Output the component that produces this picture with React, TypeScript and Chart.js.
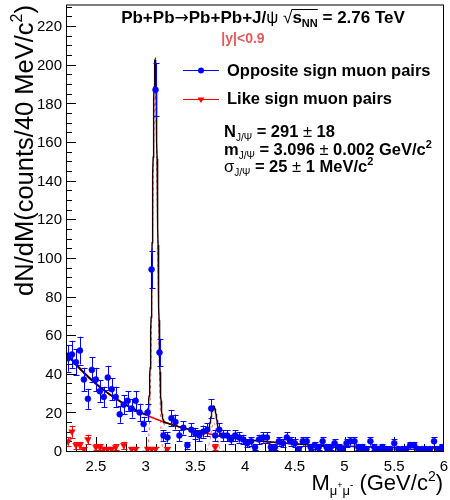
import React, { useEffect, useRef } from "react";
import { Chart, registerables } from "chart.js";

Chart.register(...registerables);

// ---------- data ----------
const BIN_LO = 2.2;
const BIN_WIDTH = 0.04;
const X_MIN = 2.2;
const X_MAX = 6.0;
const Y_MIN = 0;
const Y_MAX = 231.2;

// opposite sign muon pairs, counts per 40 MeV bin (2.20 .. 6.00)
const oppositeSign = [
  48, 50, 46, 52, 37, 27, 42, 37, 31, 28,
  38, 32, 28, 19, 24, 26, 22, 26, 20, 14,
  20, 94, 187, 51, 8, 7, 17, 15, 8, 12,
  3, 11, 9, 8, 10, 11, 22, 8, 11, 8,
  8, 6, 8, 7, 6, 4, 5, 2, 6, 7,
  7, 2, 2, 5, 4, 7, 5, 4, 1, 5,
  5, 2, 3, 2, 5, 2, 2, 4, 2, 1,
  4, 5, 5, 2, 2, 1, 5, 2, 1, 2,
  1, 1, 4, 1, 1, 1, 3, 3, 1, 1,
  1, 1, 5, 1, 2,
];

// like sign muon pairs
const likeSign = [
  5, 10, 3, 3, 1, 6, 0, 2, 2, 1,
  1, 1, 2, 0, 3, 0, 1, 1, 0, 0,
  1, 1, 1, 0, 0, 1, 0, 0, 0, 0,
  0, 0, 0, 0, 0, 0, 0, 2, 0, 0,
  0, 0, 0, 0, 0, 0, 0, 0, 0, 0,
  0, 0, 0, 0, 0, 0, 0, 0, 0, 0,
  0, 0, 0, 0, 0, 0, 0, 0, 0, 0,
  0, 0, 0, 0, 0, 0, 0, 0, 0, 0,
  0, 0, 0, 0, 0, 0, 0, 0, 0, 0,
  0, 0, 0, 0, 0,
];

// fit parameters
const jpsiN = 291;
const jpsiMass = 3.096;
const jpsiSigma = 0.025;
const psi2sN = 26;
const psi2sMass = 3.686;
const psi2sSigma = 0.028;
const bgNorm = 50;
const bgSlope = 1.3;
const bgConst = 1.2;

const xTicks = [2.5, 3, 3.5, 4, 4.5, 5, 5.5, 6];
const xTickLabels = ["2.5", "3", "3.5", "4", "4.5", "5", "5.5", "6"];
const yTicks = [0, 20, 40, 60, 80, 100, 120, 140, 160, 180, 200, 220];

// ---------- helpers ----------
const FONT = "'Liberation Sans', Arial, Helvetica, sans-serif";

const binCenter = (i: number) => BIN_LO + BIN_WIDTH * (i + 0.5);
const gauss = (x: number, n: number, m: number, s: number) =>
  ((n * BIN_WIDTH) / (s * Math.sqrt(2 * Math.PI))) * Math.exp(-0.5 * ((x - m) / s) ** 2);
const bgFn = (x: number) => bgNorm * Math.exp(-bgSlope * (x - X_MIN)) + bgConst;

const fitGrid: number[] = [];
for (let i = 0; i <= 1900; i++) fitGrid.push(X_MIN + i * 0.002);

const osPoints = oppositeSign.map((v, i) => ({ x: binCenter(i), y: v })).filter((p) => p.y > 0);
const lsPoints = likeSign.map((v, i) => ({ x: binCenter(i), y: v })).filter((p) => p.y > 0);
const bgCurve = fitGrid.map((x) => ({ x, y: bgFn(x) }));
const totalCurve = fitGrid.map((x) => ({
  x,
  y: bgFn(x) + gauss(x, jpsiN, jpsiMass, jpsiSigma) + gauss(x, psi2sN, psi2sMass, psi2sSigma),
}));
const jpsiCurve = fitGrid
  .filter((x) => Math.abs(x - jpsiMass) < 5 * jpsiSigma)
  .map((x) => ({ x, y: gauss(x, jpsiN, jpsiMass, jpsiSigma) }));
const psi2sCurve = fitGrid
  .filter((x) => Math.abs(x - psi2sMass) < 5 * psi2sSigma)
  .map((x) => ({ x, y: gauss(x, psi2sN, psi2sMass, psi2sSigma) }));

type Seg = { t: string; size: number; bold?: boolean; dy?: number; color?: string; family?: string };

function segFont(s: Seg) {
  return `${s.bold ? "bold " : ""}${s.size}px ${s.family || FONT}`;
}

function drawRich(
  ctx: CanvasRenderingContext2D,
  x: number,
  y: number,
  segs: Seg[],
  align: "left" | "right" | "center"
) {
  const widths = segs.map((s) => {
    ctx.font = segFont(s);
    return ctx.measureText(s.t).width;
  });
  const total = widths.reduce((a, b) => a + b, 0);
  let cx = align === "left" ? x : align === "right" ? x - total : x - total / 2;
  const pos: [number, number][] = [];
  ctx.textAlign = "left";
  ctx.textBaseline = "alphabetic";
  segs.forEach((s, i) => {
    ctx.font = segFont(s);
    ctx.fillStyle = s.color || "#000";
    ctx.fillText(s.t, cx, y + (s.dy || 0));
    pos.push([cx, cx + widths[i]]);
    cx += widths[i];
  });
  return pos;
}

const rootPlugin = {
  id: "rootStyle",
  beforeDatasetsDraw(chart: any) {
    const { ctx, chartArea: a, scales } = chart;
    const xs = scales.x;
    const ys = scales.y;
    ctx.save();
    ctx.strokeStyle = "#000";
    ctx.lineWidth = 1;
    ctx.beginPath();
    for (let i = 1; i < 38; i++) {
      const v = X_MIN + i * 0.1;
      const px = Math.round(xs.getPixelForValue(v)) + 0.5;
      const major = i % 5 === 3;
      ctx.moveTo(px, a.bottom);
      ctx.lineTo(px, a.bottom - (major ? 14 : 7));
    }
    for (let v = 5; v < Y_MAX; v += 5) {
      const py = Math.round(ys.getPixelForValue(v)) + 0.5;
      const major = v % 20 === 0;
      ctx.moveTo(a.left, py);
      ctx.lineTo(a.left + (major ? 10 : 6), py);
    }
    ctx.stroke();
    ctx.restore();
  },
  afterDatasetsDraw(chart: any) {
    const { ctx, scales, chartArea: a } = chart;
    const xs = scales.x;
    const ys = scales.y;
    ctx.save();
    ctx.beginPath();
    ctx.rect(a.left, a.top, a.right - a.left, a.bottom - a.top);
    ctx.clip();
    const bars = (pts: { x: number; y: number }[], color: string) => {
      ctx.strokeStyle = color;
      ctx.lineWidth = 1;
      ctx.beginPath();
      pts.forEach((p) => {
        const e = Math.sqrt(p.y);
        const px = Math.round(xs.getPixelForValue(p.x)) + 0.5;
        const y1 = ys.getPixelForValue(p.y + e);
        const y0 = ys.getPixelForValue(Math.max(0, p.y - e));
        ctx.moveTo(px, y0);
        ctx.lineTo(px, y1);
        ctx.moveTo(px - 3, Math.round(y1) + 0.5);
        ctx.lineTo(px + 3, Math.round(y1) + 0.5);
        ctx.moveTo(px - 3, Math.round(y0) + 0.5);
        ctx.lineTo(px + 3, Math.round(y0) + 0.5);
      });
      ctx.stroke();
    };
    bars(osPoints, "#0000ff");
    bars(lsPoints, "#ff0000");
    ctx.restore();
  },
  afterDraw(chart: any) {
    const { ctx, chartArea: a, scales } = chart;
    const xs = scales.x;
    const ys = scales.y;
    ctx.save();
    ctx.strokeStyle = "#000";
    ctx.lineWidth = 1;
    ctx.strokeRect(a.left + 0.5, a.top + 0.5, a.right - a.left - 1, a.bottom - a.top);

    ctx.fillStyle = "#000";
    ctx.font = `15px ${FONT}`;
    ctx.textAlign = "center";
    ctx.textBaseline = "alphabetic";
    xTicks.forEach((v, i) => ctx.fillText(xTickLabels[i], xs.getPixelForValue(v), 471));
    ctx.textAlign = "right";
    ctx.textBaseline = "middle";
    yTicks.forEach((v) => ctx.fillText(String(v), 62, ys.getPixelForValue(v) + 1));

    drawRich(
      ctx,
      443,
      490,
      [
        { t: "M", size: 22 },
        { t: "\u03bc", size: 13, dy: 5 },
        { t: "+", size: 9, dy: -2 },
        { t: "\u03bc", size: 13, dy: 5 },
        { t: "-", size: 10, dy: -2 },
        { t: " (GeV/c", size: 22 },
        { t: "2", size: 14, dy: -9 },
        { t: ")", size: 22 },
      ],
      "right"
    );
    ctx.save();
    ctx.translate(33, 5);
    ctx.rotate(-Math.PI / 2);
    drawRich(
      ctx,
      0,
      0,
      [
        { t: "dN/dM(counts/40 MeV/c", size: 25.5 },
        { t: "2", size: 16, dy: -11 },
        { t: ")", size: 25.5 },
      ],
      "right"
    );
    ctx.restore();

    const tp = drawRich(
      ctx,
      263,
      23,
      [
        { t: "Pb+Pb", size: 17, bold: true },
        { t: "\u2192", size: 17, family: "'DejaVu Sans', sans-serif" },
        { t: "Pb+Pb+J/", size: 17, bold: true },
        { t: "\u03c8", size: 17 },
        { t: " ", size: 17, bold: true },
        { t: "\u221a", size: 17 },
        { t: "s", size: 17, bold: true },
        { t: "NN", size: 11, bold: true, dy: 4 },
        { t: " = 2.76 TeV", size: 17, bold: true },
      ],
      "center"
    );
    ctx.strokeStyle = "#000";
    ctx.lineWidth = 1;
    ctx.beginPath();
    ctx.moveTo(tp[5][1] - 1, 9.5);
    ctx.lineTo(tp[7][1], 9.5);
    ctx.stroke();

    drawRich(ctx, 243, 43, [{ t: "|y|<0.9", size: 14, bold: true, color: "#e05a5a" }], "center");

    // legend
    ctx.lineWidth = 1;
    ctx.strokeStyle = "#0000ff";
    ctx.beginPath();
    ctx.moveTo(183, 70.5);
    ctx.lineTo(219, 70.5);
    ctx.stroke();
    ctx.fillStyle = "#0000ff";
    ctx.beginPath();
    ctx.arc(201, 70.5, 3, 0, Math.PI * 2);
    ctx.fill();
    ctx.strokeStyle = "#ff0000";
    ctx.beginPath();
    ctx.moveTo(183, 99.5);
    ctx.lineTo(219, 99.5);
    ctx.stroke();
    ctx.fillStyle = "#ff0000";
    ctx.beginPath();
    ctx.moveTo(197.5, 97.5);
    ctx.lineTo(204.5, 97.5);
    ctx.lineTo(201, 103);
    ctx.closePath();
    ctx.fill();
    drawRich(ctx, 227, 75.5, [{ t: "Opposite sign muon pairs", size: 16.5, bold: true }], "left");
    drawRich(ctx, 227, 104, [{ t: "Like sign muon pairs", size: 16.5, bold: true }], "left");

    const sub: Seg = { t: "J/\u03a8", size: 10, dy: 4 };
    drawRich(
      ctx,
      224,
      137,
      [
        { t: "N", size: 16.5, bold: true },
        sub,
        { t: " = 291", size: 16.5, bold: true },
        { t: " \u00b1 ", size: 16.5 },
        { t: "18", size: 16.5, bold: true },
      ],
      "left"
    );
    drawRich(
      ctx,
      224,
      155,
      [
        { t: "m", size: 16.5, bold: true },
        sub,
        { t: " = 3.096", size: 16.5, bold: true },
        { t: " \u00b1 ", size: 16.5 },
        { t: "0.002 GeV/c", size: 16.5, bold: true },
        { t: "2", size: 11, bold: true, dy: -7 },
      ],
      "left"
    );
    drawRich(
      ctx,
      224,
      172,
      [
        { t: "\u03c3", size: 16.5 },
        sub,
        { t: " = 25", size: 16.5, bold: true },
        { t: " \u00b1 ", size: 16.5 },
        { t: "1 MeV/c", size: 16.5, bold: true },
        { t: "2", size: 11, bold: true, dy: -7 },
      ],
      "left"
    );
    ctx.restore();
  },
};

export default function App() {
  const ref = useRef<HTMLCanvasElement>(null);
  useEffect(() => {
    document.body.style.margin = "0";
    const chart = new Chart(ref.current as HTMLCanvasElement, {
      type: "scatter",
      data: {
        datasets: [
          {
            label: "Opposite sign muon pairs",
            data: osPoints,
            pointStyle: "circle",
            pointRadius: 3,
            pointBorderWidth: 0.5,
            pointBackgroundColor: "#0000ff",
            pointBorderColor: "#0000ff",
            showLine: false,
          },
          {
            label: "Like sign muon pairs",
            data: lsPoints,
            pointStyle: "triangle",
            pointRotation: 180,
            pointRadius: 3.8,
            pointBorderWidth: 0.5,
            pointBackgroundColor: "#ff0000",
            pointBorderColor: "#ff0000",
            showLine: false,
          },
          {
            label: "total fit",
            data: totalCurve,
            showLine: true,
            borderColor: "#1a0000",
            borderWidth: 1.4,
            pointRadius: 0,
            tension: 0,
          },
          {
            label: "background",
            data: bgCurve,
            showLine: true,
            borderColor: "#ff0000",
            borderWidth: 1.4,
            pointRadius: 0,
            tension: 0,
          },
          {
            label: "J/psi",
            data: jpsiCurve,
            showLine: true,
            borderColor: "#ff6666",
            borderDash: [3, 3],
            borderWidth: 1,
            pointRadius: 0,
            tension: 0,
          },
          {
            label: "psi(2S)",
            data: psi2sCurve,
            showLine: true,
            borderColor: "#ff6666",
            borderDash: [3, 3],
            borderWidth: 1,
            pointRadius: 0,
            tension: 0,
          },
        ] as any,
      },
      options: {
        responsive: false,
        animation: false,
        devicePixelRatio: 1,
        layout: { padding: { left: 66, right: 6, top: 3, bottom: 49 } },
        plugins: { legend: { display: false }, tooltip: { enabled: false } },
        events: [],
        scales: {
          x: { type: "linear", min: X_MIN, max: X_MAX, display: false },
          y: { type: "linear", min: Y_MIN, max: Y_MAX, display: false },
        },
      } as any,
      plugins: [rootPlugin],
    });
    return () => chart.destroy();
  }, []);
  return (
    <div style={{ position: "absolute", left: 0, top: 0, width: 450, height: 500, background: "#fff" }}>
      <canvas ref={ref} width={450} height={500} style={{ width: 450, height: 500, display: "block" }} />
    </div>
  );
}
